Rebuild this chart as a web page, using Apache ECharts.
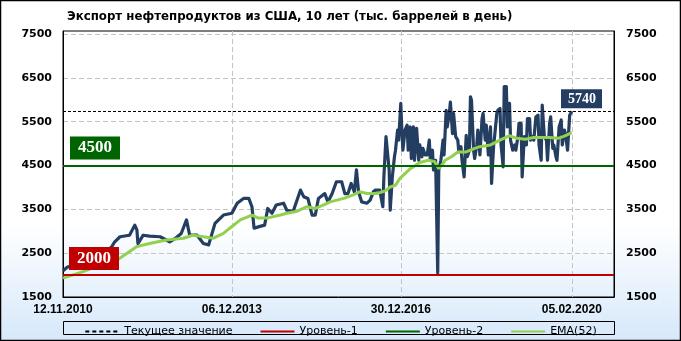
<!DOCTYPE html>
<html><head><meta charset="utf-8">
<script src="https://cdn.jsdelivr.net/npm/echarts@6/dist/echarts.min.js"></script>
<style>
html,body{margin:0;padding:0;background:#fff}
#c{width:681px;height:341px;background:linear-gradient(to bottom,#ffffff 0%,#ffffff 66%,#d6e8fa 100%)}
</style>
</head><body><div id="c"></div>
<script>
const titleText = 'Экспорт нефтепродуктов из США, 10 лет (тыс. баррелей в день)';
const xTickLabels = ['12.11.2010', '06.12.2013', '30.12.2016', '05.02.2020'];
const yTicks = [1500, 2500, 3500, 4500, 5500, 6500, 7500];
const level1 = 2000;
const level2 = 4500;
const currentValue = 5740;

// weeks since 12.11.2010 (week 482 = 05.02.2020) and values
const exportWeeks = [0,4,11,21,30,40,46,49,54,63,68,70,71,76,82,92,101,106,112,117,120,127,133,138,144,152,160,165,171,176,179,181,185,191,194,198,202,209,212,218,225,228,232,236,239,242,248,251,255,259,264,267,270,273,276,278,280,283,288,291,294,296,300,303,304,306,307,309,310,312,314,315,317,318,320,321,322,324,326,327,329,330,332,333,335,337,338,340,341,343,345,347,348,350,351,353,355,356,358,360,361,363,364,366,367,369,370,372,374,375,377,378,380,382,383,385,386,387,389,390,392,393,395,397,398,400,401,403,405,406,408,409,411,412,414,415,417,418,420,421,423,424,426,428,429,431,432,434,435,437,439,440,442,443,445,446,448,450,451,453,454,456,458,459,461,462,464,465,467,468,470,472,473,475,476,478,480,482];
const exportValues = [2100,2180,2240,2330,2420,2520,2640,2760,2875,2910,3140,3030,2720,2910,2890,2875,2760,2830,2950,3260,2910,2910,2720,2690,3180,3370,3410,3640,3750,3750,3560,3070,3100,3140,3520,3410,3600,3640,3480,3450,3940,3790,3750,3370,3370,3750,3860,3670,3860,4130,4130,3860,3860,4090,3900,4400,3900,3670,3640,3710,3900,3940,3940,3560,4240,5160,5190,4400,3480,4240,4700,4850,5310,5080,5920,5310,4850,5310,5420,4850,5380,4660,5380,4620,5350,4620,4970,4700,4890,4740,4740,5080,4620,4850,4400,4620,2050,4400,4620,5080,4740,5760,5380,5690,5950,5230,5690,5160,5080,4810,4930,4620,4240,5190,4700,4850,6070,5990,4850,4660,4970,5310,4740,5570,5690,5080,5420,4740,5380,4090,4970,5190,5690,5760,5800,4970,4470,6300,6300,5380,5920,5080,4850,4970,4850,5160,5460,5460,4240,5160,4970,5570,5570,5080,5160,5080,5610,5650,4970,4620,5880,5160,5080,4620,5460,5610,4890,4970,4700,4620,5380,5540,4970,5310,5230,4850,5650,5740];

const emaWeeks = [0,19,35,51,70,82,98,114,123,133,142,152,158,168,179,185,193,206,212,221,231,239,247,253,266,275,281,288,297,305,310,315,319,326,329,332,338,346,352,356,359,362,368,374,382,390,395,405,414,423,430,438,446,454,461,469,475,482];
const emaValues = [1930,2080,2230,2340,2650,2720,2800,2840,2910,2875,2840,2950,3070,3260,3370,3300,3300,3370,3410,3450,3560,3520,3600,3670,3750,3830,3900,3860,3860,3920,4010,4050,4200,4360,4430,4470,4570,4620,4590,4430,4510,4620,4700,4810,4810,4890,4930,4970,5080,5180,5120,5100,5140,5140,5140,5120,5170,5250];

// weekly category axis: 12.11.2010 ... 31.01.2020, then 05.02.2020, then empty room to the right edge
const DAY = 864e5;
function fmt(t) {
  const d = new Date(t);
  return String(d.getUTCDate()).padStart(2, '0') + '.' + String(d.getUTCMonth() + 1).padStart(2, '0') + '.' + d.getUTCFullYear();
}
const startT = Date.UTC(2010, 10, 12);
const lastT = Date.UTC(2020, 1, 5);
const lastIdx = 482, padWeeks = 40;
const categories = [];
for (let i = 0; i <= lastIdx + padWeeks; i++) {
  categories.push(fmt(i < lastIdx ? startT + i * 7 * DAY : lastT + (i - lastIdx) * 7 * DAY));
}
const showTick = (i) => xTickLabels.includes(categories[i]);

const navy = '#243e62';
const chart = echarts.init(document.getElementById('c'), null, {renderer: 'canvas'});
const yLabelFont = {fontFamily: 'DejaVu Sans', fontWeight: 'bold', fontSize: 11, color: '#000'};
const yAxisBase = {
  type: 'value', min: 1500, max: 7570, interval: 1000,
  axisLine: {show: true, lineStyle: {color: '#000', width: 1}},
  axisTick: {show: false},
  axisLabel: Object.assign({formatter: (v) => yTicks.includes(v) ? String(v) : ''}, yLabelFont)
};
const levelLabel = {
  show: true, position: 'insideStartTop', color: '#fff',
  fontFamily: 'Liberation Serif', fontWeight: 'bold', fontSize: 17, lineHeight: 17,
  padding: [3, 8, 3, 8]
};
chart.setOption({
  animation: false,
  backgroundColor: 'transparent',
  title: {
    text: titleText, left: 67, top: 11, padding: 0,
    textStyle: {fontFamily: 'DejaVu Sans', fontWeight: 'bold', fontSize: 11.8, color: '#000'}
  },
  grid: {left: 63, right: 67, top: 31, bottom: 44, show: true, borderColor: '#000', borderWidth: 1, backgroundColor: 'transparent'},
  legend: {
    data: ['Текущее значение', 'Уровень-1', 'Уровень-2', 'EMA(52)'],
    top: 321, left: 'center', itemGap: 27, itemWidth: 34, itemHeight: 12,
    itemStyle: {opacity: 0},
    textStyle: {fontFamily: 'DejaVu Sans', fontSize: 11, color: '#000'},
    selectedMode: false
  },
  xAxis: {
    type: 'category', data: categories, boundaryGap: false,
    axisLine: {show: true, lineStyle: {color: '#000'}},
    axisTick: {show: false},
    axisLabel: {interval: showTick, fontFamily: 'Liberation Sans', fontWeight: 'bold', fontSize: 12, color: '#000', margin: 7},
    splitLine: {show: true, interval: showTick, lineStyle: {color: '#c4c4c4', type: [5, 3], width: 1}}
  },
  yAxis: [
    Object.assign({}, yAxisBase, {
      position: 'left',
      axisLabel: Object.assign({}, yAxisBase.axisLabel, {margin: 11}),
      splitLine: {show: true, showMaxLine: false, lineStyle: {color: '#c4c4c4', type: [5, 3], width: 1}}
    }),
    Object.assign({}, yAxisBase, {
      position: 'right',
      axisLabel: Object.assign({}, yAxisBase.axisLabel, {margin: 12}),
      splitLine: {show: false}
    })
  ],
  graphic: [
    {type: 'rect', shape: {x: 63.5, y: 321.5, width: 551, height: 13}, style: {fill: null, stroke: '#000', lineWidth: 1}, z: 100},
    {type: 'rect', shape: {x: 0.5, y: 0.5, width: 680, height: 340}, style: {fill: null, stroke: '#000', lineWidth: 1.5}, z: 100}
  ],
  series: [
    {
      name: 'Экспорт', type: 'line', z: 2,
      data: exportWeeks.map((w, k) => [w, exportValues[k]]),
      showSymbol: false, symbol: 'none',
      lineStyle: {color: navy, width: 3.2, join: 'round'}
    },
    {
      name: 'EMA(52)', type: 'line', z: 3,
      data: emaWeeks.map((w, k) => [w, emaValues[k]]),
      showSymbol: false, symbol: 'none',
      itemStyle: {color: '#92d050'},
      lineStyle: {color: '#92d050', width: 3}
    },
    {
      name: 'Уровень-1', type: 'line', z: 4, data: [], symbol: 'none',
      itemStyle: {color: '#c00000'},
      lineStyle: {color: '#c00000', width: 2},
      markLine: {
        silent: true, symbol: 'none', animation: false,
        data: [{yAxis: level1}],
        lineStyle: {color: '#c00000', width: 2, type: 'solid'},
        label: Object.assign({}, levelLabel, {formatter: String(level1), backgroundColor: '#c00000', distance: [6, 5]})
      }
    },
    {
      name: 'Уровень-2', type: 'line', z: 4, data: [], symbol: 'none',
      itemStyle: {color: '#006400'},
      lineStyle: {color: '#006400', width: 2},
      markLine: {
        silent: true, symbol: 'none', animation: false,
        data: [{yAxis: level2}],
        lineStyle: {color: '#006400', width: 2, type: 'solid'},
        label: Object.assign({}, levelLabel, {formatter: String(level2), backgroundColor: '#006400', distance: [7, 6]})
      }
    },
    {
      name: 'Текущее значение', type: 'line', z: 5, data: [], symbol: 'none',
      itemStyle: {color: '#000'},
      lineStyle: {color: '#000', width: 1, type: [4, 3]},
      markLine: {
        silent: true, symbol: 'none', animation: false,
        data: [{yAxis: currentValue}],
        lineStyle: {color: '#000', width: 1, type: [3, 2]},
        label: {show: true, position: 'insideEndTop', formatter: String(currentValue), color: '#fff', backgroundColor: navy,
          fontFamily: 'Liberation Serif', fontWeight: 'bold', fontSize: 14, lineHeight: 14, padding: [3, 6, 2, 7], distance: [12, 3]}
      }
    }
  ]
});
</script>
</body></html>
